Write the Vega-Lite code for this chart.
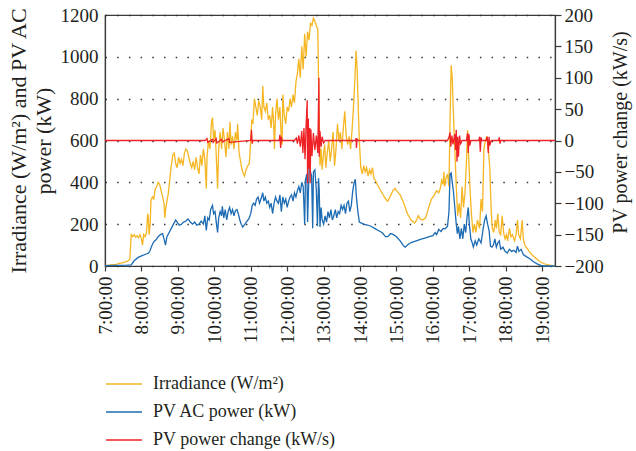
{
"$schema": "https://vega.github.io/schema/vega-lite/v6.json",
"width": 450, "height": 251,
"autosize": {"type": "none"},
"padding": {"left": 105, "top": 15, "right": 81, "bottom": 185},
"background": "white",
"datasets": {
"irr": [
{"t":7.00,"v":2},{"t":7.10,"v":4},{"t":7.20,"v":6},{"t":7.30,"v":8},{"t":7.40,"v":12},{"t":7.50,"v":16},{"t":7.60,"v":22},{"t":7.68,"v":30},{"t":7.70,"v":90},{"t":7.72,"v":150},{"t":7.76,"v":140},{"t":7.80,"v":150},{"t":7.84,"v":138},{"t":7.88,"v":145},{"t":7.92,"v":135},{"t":7.96,"v":150},{"t":8.00,"v":130},{"t":8.03,"v":100},{"t":8.06,"v":150},{"t":8.10,"v":140},{"t":8.14,"v":160},{"t":8.17,"v":250},{"t":8.19,"v":230},{"t":8.21,"v":150},{"t":8.24,"v":200},{"t":8.26,"v":310},{"t":8.30,"v":330},{"t":8.34,"v":320},{"t":8.38,"v":370},{"t":8.42,"v":380},{"t":8.46,"v":400},{"t":8.50,"v":390},{"t":8.54,"v":360},{"t":8.58,"v":330},{"t":8.62,"v":300},{"t":8.64,"v":230},{"t":8.67,"v":280},{"t":8.70,"v":310},{"t":8.74,"v":350},{"t":8.78,"v":420},{"t":8.82,"v":480},{"t":8.86,"v":530},{"t":8.90,"v":540},{"t":8.94,"v":490},{"t":8.98,"v":470},{"t":9.02,"v":520},{"t":9.06,"v":490},{"t":9.10,"v":510},{"t":9.14,"v":480},{"t":9.18,"v":540},{"t":9.22,"v":560},{"t":9.26,"v":550},{"t":9.30,"v":520},{"t":9.34,"v":490},{"t":9.38,"v":470},{"t":9.42,"v":500},{"t":9.46,"v":460},{"t":9.50,"v":520},{"t":9.54,"v":470},{"t":9.58,"v":440},{"t":9.62,"v":530},{"t":9.66,"v":480},{"t":9.70,"v":560},{"t":9.74,"v":510},{"t":9.78,"v":370},{"t":9.80,"v":520},{"t":9.84,"v":600},{"t":9.88,"v":560},{"t":9.92,"v":680},{"t":9.95,"v":710},{"t":9.98,"v":600},{"t":10.02,"v":650},{"t":10.05,"v":540},{"t":10.09,"v":370},{"t":10.12,"v":560},{"t":10.16,"v":640},{"t":10.20,"v":560},{"t":10.24,"v":660},{"t":10.28,"v":600},{"t":10.32,"v":520},{"t":10.36,"v":640},{"t":10.40,"v":560},{"t":10.43,"v":690},{"t":10.46,"v":580},{"t":10.50,"v":620},{"t":10.54,"v":560},{"t":10.58,"v":640},{"t":10.62,"v":600},{"t":10.64,"v":680},{"t":10.68,"v":540},{"t":10.72,"v":500},{"t":10.76,"v":460},{"t":10.80,"v":440},{"t":10.83,"v":430},{"t":10.87,"v":460},{"t":10.92,"v":480},{"t":10.96,"v":490},{"t":11.00,"v":600},{"t":11.03,"v":700},{"t":11.06,"v":680},{"t":11.10,"v":800},{"t":11.14,"v":760},{"t":11.18,"v":720},{"t":11.22,"v":790},{"t":11.26,"v":760},{"t":11.30,"v":700},{"t":11.33,"v":860},{"t":11.36,"v":760},{"t":11.40,"v":740},{"t":11.44,"v":780},{"t":11.48,"v":700},{"t":11.52,"v":720},{"t":11.56,"v":660},{"t":11.60,"v":760},{"t":11.63,"v":680},{"t":11.65,"v":560},{"t":11.68,"v":720},{"t":11.72,"v":800},{"t":11.76,"v":700},{"t":11.80,"v":760},{"t":11.84,"v":600},{"t":11.86,"v":580},{"t":11.88,"v":820},{"t":11.92,"v":720},{"t":11.96,"v":680},{"t":12.00,"v":760},{"t":12.04,"v":740},{"t":12.08,"v":800},{"t":12.12,"v":760},{"t":12.16,"v":820},{"t":12.20,"v":780},{"t":12.24,"v":880},{"t":12.28,"v":920},{"t":12.32,"v":990},{"t":12.36,"v":900},{"t":12.40,"v":1050},{"t":12.44,"v":940},{"t":12.48,"v":1110},{"t":12.52,"v":1000},{"t":12.56,"v":1120},{"t":12.60,"v":1080},{"t":12.64,"v":1160},{"t":12.68,"v":1150},{"t":12.72,"v":1185},{"t":12.76,"v":1170},{"t":12.80,"v":1150},{"t":12.84,"v":1130},{"t":12.86,"v":900},{"t":12.88,"v":700},{"t":12.90,"v":480},{"t":12.93,"v":560},{"t":12.96,"v":460},{"t":13.00,"v":540},{"t":13.03,"v":580},{"t":13.06,"v":470},{"t":13.10,"v":540},{"t":13.14,"v":600},{"t":13.18,"v":500},{"t":13.22,"v":560},{"t":13.26,"v":640},{"t":13.30,"v":480},{"t":13.34,"v":560},{"t":13.38,"v":680},{"t":13.42,"v":600},{"t":13.46,"v":640},{"t":13.50,"v":560},{"t":13.54,"v":660},{"t":13.58,"v":740},{"t":13.62,"v":620},{"t":13.66,"v":580},{"t":13.70,"v":620},{"t":13.74,"v":560},{"t":13.78,"v":650},{"t":13.82,"v":760},{"t":13.86,"v":900},{"t":13.89,"v":1030},{"t":13.92,"v":940},{"t":13.95,"v":760},{"t":13.98,"v":600},{"t":14.02,"v":470},{"t":14.06,"v":440},{"t":14.10,"v":480},{"t":14.14,"v":450},{"t":14.18,"v":470},{"t":14.22,"v":430},{"t":14.26,"v":460},{"t":14.30,"v":440},{"t":14.34,"v":470},{"t":14.38,"v":420},{"t":14.42,"v":410},{"t":14.50,"v":380},{"t":14.60,"v":350},{"t":14.70,"v":320},{"t":14.76,"v":310},{"t":14.82,"v":330},{"t":14.90,"v":360},{"t":14.96,"v":370},{"t":15.00,"v":360},{"t":15.10,"v":340},{"t":15.20,"v":300},{"t":15.30,"v":250},{"t":15.40,"v":220},{"t":15.50,"v":205},{"t":15.55,"v":220},{"t":15.60,"v":240},{"t":15.65,"v":225},{"t":15.72,"v":220},{"t":15.80,"v":230},{"t":15.90,"v":290},{"t":15.96,"v":320},{"t":16.04,"v":340},{"t":16.10,"v":360},{"t":16.16,"v":350},{"t":16.20,"v":370},{"t":16.24,"v":410},{"t":16.28,"v":390},{"t":16.30,"v":450},{"t":16.32,"v":380},{"t":16.36,"v":420},{"t":16.40,"v":440},{"t":16.44,"v":380},{"t":16.47,"v":700},{"t":16.50,"v":960},{"t":16.53,"v":900},{"t":16.56,"v":740},{"t":16.60,"v":560},{"t":16.64,"v":380},{"t":16.68,"v":240},{"t":16.72,"v":300},{"t":16.76,"v":230},{"t":16.80,"v":380},{"t":16.84,"v":280},{"t":16.88,"v":350},{"t":16.92,"v":500},{"t":16.95,"v":650},{"t":16.98,"v":520},{"t":17.02,"v":360},{"t":17.06,"v":240},{"t":17.10,"v":160},{"t":17.14,"v":200},{"t":17.18,"v":160},{"t":17.22,"v":220},{"t":17.28,"v":180},{"t":17.32,"v":320},{"t":17.36,"v":260},{"t":17.40,"v":560},{"t":17.44,"v":600},{"t":17.48,"v":620},{"t":17.52,"v":560},{"t":17.56,"v":470},{"t":17.60,"v":260},{"t":17.63,"v":180},{"t":17.67,"v":160},{"t":17.71,"v":220},{"t":17.74,"v":180},{"t":17.78,"v":250},{"t":17.82,"v":160},{"t":17.86,"v":150},{"t":17.90,"v":240},{"t":17.94,"v":160},{"t":17.98,"v":130},{"t":18.02,"v":150},{"t":18.05,"v":120},{"t":18.10,"v":180},{"t":18.14,"v":140},{"t":18.18,"v":150},{"t":18.24,"v":120},{"t":18.28,"v":150},{"t":18.32,"v":220},{"t":18.35,"v":150},{"t":18.40,"v":130},{"t":18.45,"v":220},{"t":18.48,"v":130},{"t":18.52,"v":100},{"t":18.58,"v":85},{"t":18.66,"v":65},{"t":18.74,"v":50},{"t":18.84,"v":35},{"t":18.94,"v":20},{"t":19.04,"v":12},{"t":19.14,"v":6},{"t":19.24,"v":3},{"t":19.35,"v":0}
],
"pv": [
{"t":7.00,"v":2},{"t":7.30,"v":3},{"t":7.60,"v":4},{"t":7.72,"v":5},{"t":7.80,"v":25},{"t":7.90,"v":40},{"t":8.00,"v":48},{"t":8.10,"v":55},{"t":8.20,"v":62},{"t":8.24,"v":75},{"t":8.28,"v":95},{"t":8.32,"v":110},{"t":8.36,"v":120},{"t":8.40,"v":125},{"t":8.46,"v":140},{"t":8.52,"v":150},{"t":8.58,"v":155},{"t":8.62,"v":130},{"t":8.66,"v":100},{"t":8.70,"v":140},{"t":8.76,"v":160},{"t":8.82,"v":180},{"t":8.88,"v":200},{"t":8.94,"v":220},{"t":8.98,"v":210},{"t":9.04,"v":195},{"t":9.10,"v":200},{"t":9.16,"v":210},{"t":9.22,"v":215},{"t":9.28,"v":225},{"t":9.34,"v":210},{"t":9.40,"v":200},{"t":9.46,"v":210},{"t":9.52,"v":195},{"t":9.58,"v":200},{"t":9.64,"v":215},{"t":9.70,"v":200},{"t":9.74,"v":240},{"t":9.78,"v":170},{"t":9.82,"v":230},{"t":9.86,"v":220},{"t":9.90,"v":270},{"t":9.95,"v":290},{"t":9.98,"v":250},{"t":10.02,"v":260},{"t":10.06,"v":200},{"t":10.09,"v":160},{"t":10.12,"v":230},{"t":10.16,"v":260},{"t":10.20,"v":240},{"t":10.22,"v":285},{"t":10.26,"v":230},{"t":10.30,"v":270},{"t":10.34,"v":220},{"t":10.38,"v":260},{"t":10.42,"v":280},{"t":10.46,"v":250},{"t":10.50,"v":270},{"t":10.54,"v":240},{"t":10.58,"v":265},{"t":10.62,"v":270},{"t":10.66,"v":250},{"t":10.70,"v":220},{"t":10.74,"v":200},{"t":10.78,"v":186},{"t":10.84,"v":200},{"t":10.90,"v":215},{"t":10.96,"v":230},{"t":11.00,"v":250},{"t":11.04,"v":290},{"t":11.08,"v":300},{"t":11.12,"v":290},{"t":11.16,"v":320},{"t":11.20,"v":330},{"t":11.24,"v":300},{"t":11.28,"v":320},{"t":11.33,"v":350},{"t":11.36,"v":310},{"t":11.40,"v":330},{"t":11.44,"v":300},{"t":11.48,"v":310},{"t":11.52,"v":280},{"t":11.56,"v":300},{"t":11.60,"v":250},{"t":11.64,"v":300},{"t":11.68,"v":330},{"t":11.72,"v":310},{"t":11.76,"v":300},{"t":11.80,"v":340},{"t":11.84,"v":260},{"t":11.88,"v":330},{"t":11.92,"v":300},{"t":11.96,"v":320},{"t":12.00,"v":280},{"t":12.04,"v":310},{"t":12.08,"v":330},{"t":12.12,"v":340},{"t":12.16,"v":310},{"t":12.20,"v":350},{"t":12.24,"v":330},{"t":12.28,"v":360},{"t":12.32,"v":380},{"t":12.36,"v":350},{"t":12.40,"v":400},{"t":12.44,"v":380},{"t":12.48,"v":200},{"t":12.50,"v":410},{"t":12.54,"v":440},{"t":12.56,"v":210},{"t":12.60,"v":460},{"t":12.64,"v":450},{"t":12.67,"v":430},{"t":12.70,"v":180},{"t":12.72,"v":450},{"t":12.76,"v":460},{"t":12.80,"v":360},{"t":12.83,"v":190},{"t":12.86,"v":420},{"t":12.88,"v":360},{"t":12.90,"v":186},{"t":12.93,"v":280},{"t":12.96,"v":220},{"t":13.00,"v":200},{"t":13.04,"v":240},{"t":13.08,"v":210},{"t":13.12,"v":260},{"t":13.16,"v":230},{"t":13.20,"v":270},{"t":13.24,"v":220},{"t":13.28,"v":240},{"t":13.32,"v":270},{"t":13.36,"v":230},{"t":13.40,"v":260},{"t":13.44,"v":250},{"t":13.48,"v":290},{"t":13.52,"v":270},{"t":13.56,"v":290},{"t":13.60,"v":250},{"t":13.64,"v":300},{"t":13.68,"v":310},{"t":13.72,"v":260},{"t":13.76,"v":290},{"t":13.80,"v":360},{"t":13.84,"v":400},{"t":13.87,"v":415},{"t":13.90,"v":330},{"t":13.94,"v":260},{"t":13.98,"v":210},{"t":14.04,"v":205},{"t":14.10,"v":200},{"t":14.20,"v":196},{"t":14.30,"v":190},{"t":14.40,"v":180},{"t":14.50,"v":170},{"t":14.60,"v":160},{"t":14.70,"v":140},{"t":14.76,"v":140},{"t":14.84,"v":155},{"t":14.92,"v":150},{"t":15.00,"v":140},{"t":15.10,"v":120},{"t":15.20,"v":95},{"t":15.24,"v":90},{"t":15.30,"v":100},{"t":15.40,"v":112},{"t":15.50,"v":118},{"t":15.60,"v":124},{"t":15.70,"v":130},{"t":15.80,"v":135},{"t":15.90,"v":140},{"t":16.00,"v":145},{"t":16.06,"v":160},{"t":16.10,"v":150},{"t":16.16,"v":175},{"t":16.22,"v":165},{"t":16.28,"v":180},{"t":16.34,"v":178},{"t":16.40,"v":190},{"t":16.44,"v":260},{"t":16.47,"v":440},{"t":16.50,"v":445},{"t":16.53,"v":400},{"t":16.56,"v":360},{"t":16.60,"v":280},{"t":16.64,"v":200},{"t":16.67,"v":155},{"t":16.70,"v":190},{"t":16.74,"v":130},{"t":16.78,"v":180},{"t":16.82,"v":130},{"t":16.86,"v":200},{"t":16.90,"v":160},{"t":16.94,"v":240},{"t":16.97,"v":280},{"t":17.00,"v":200},{"t":17.04,"v":130},{"t":17.08,"v":110},{"t":17.11,"v":90},{"t":17.16,"v":120},{"t":17.20,"v":100},{"t":17.26,"v":130},{"t":17.32,"v":110},{"t":17.38,"v":180},{"t":17.42,"v":220},{"t":17.46,"v":240},{"t":17.50,"v":200},{"t":17.54,"v":170},{"t":17.58,"v":95},{"t":17.62,"v":90},{"t":17.66,"v":100},{"t":17.70,"v":130},{"t":17.74,"v":90},{"t":17.78,"v":110},{"t":17.82,"v":120},{"t":17.86,"v":80},{"t":17.92,"v":90},{"t":17.98,"v":70},{"t":18.04,"v":62},{"t":18.10,"v":80},{"t":18.16,"v":70},{"t":18.22,"v":75},{"t":18.28,"v":65},{"t":18.32,"v":95},{"t":18.36,"v":70},{"t":18.42,"v":80},{"t":18.48,"v":55},{"t":18.56,"v":45},{"t":18.66,"v":35},{"t":18.76,"v":20},{"t":18.86,"v":10},{"t":18.96,"v":3},{"t":19.05,"v":0},{"t":19.35,"v":0}
],
"chg": [
{"t":7.00,"v":0},{"t":9.75,"v":0},{"t":9.80,"v":3},{"t":9.82,"v":-3},{"t":9.95,"v":2},{"t":9.97,"v":-3},{"t":10.05,"v":3},{"t":10.07,"v":-4},{"t":10.20,"v":2},{"t":10.22,"v":-2},{"t":10.40,"v":3},{"t":10.42,"v":-3},{"t":11.00,"v":0},{"t":11.02,"v":17},{"t":11.04,"v":-5},{"t":11.06,"v":0},{"t":11.78,"v":0},{"t":11.80,"v":9},{"t":11.82,"v":-12},{"t":11.84,"v":6},{"t":11.86,"v":0},{"t":12.20,"v":0},{"t":12.25,"v":4},{"t":12.28,"v":-5},{"t":12.32,"v":8},{"t":12.36,"v":-10},{"t":12.40,"v":15},{"t":12.43,"v":-20},{"t":12.46,"v":20},{"t":12.49,"v":-30},{"t":12.52,"v":25},{"t":12.55,"v":64},{"t":12.56,"v":-68},{"t":12.58,"v":35},{"t":12.60,"v":-45},{"t":12.62,"v":20},{"t":12.63,"v":-68},{"t":12.65,"v":18},{"t":12.68,"v":-25},{"t":12.72,"v":12},{"t":12.76,"v":-15},{"t":12.80,"v":8},{"t":12.84,"v":-20},{"t":12.87,"v":100},{"t":12.88,"v":-26},{"t":12.90,"v":15},{"t":12.93,"v":-10},{"t":12.96,"v":6},{"t":13.00,"v":-4},{"t":13.04,"v":0},{"t":13.88,"v":0},{"t":13.89,"v":4},{"t":13.90,"v":-12},{"t":13.92,"v":3},{"t":13.94,"v":0},{"t":16.40,"v":0},{"t":16.44,"v":5},{"t":16.47,"v":13},{"t":16.49,"v":-10},{"t":16.52,"v":8},{"t":16.55,"v":-6},{"t":16.60,"v":10},{"t":16.62,"v":-15},{"t":16.64,"v":17},{"t":16.66,"v":-34},{"t":16.68,"v":6},{"t":16.70,"v":-26},{"t":16.73,"v":8},{"t":16.76,"v":-5},{"t":16.80,"v":0},{"t":16.92,"v":0},{"t":16.95,"v":12},{"t":16.97,"v":-20},{"t":16.99,"v":10},{"t":17.01,"v":-8},{"t":17.04,"v":0},{"t":17.26,"v":0},{"t":17.28,"v":6},{"t":17.30,"v":-18},{"t":17.32,"v":5},{"t":17.34,"v":0},{"t":17.46,"v":0},{"t":17.49,"v":6},{"t":17.52,"v":-20},{"t":17.54,"v":6},{"t":17.56,"v":-8},{"t":17.60,"v":0},{"t":17.80,"v":0},{"t":17.82,"v":5},{"t":17.84,"v":-5},{"t":17.86,"v":0},{"t":19.35,"v":0}
]
},
"config": {
  "font": "Liberation Serif",
  "view": {"stroke": "#3a3a3a", "strokeWidth": 1.2},
  "axis": {
    "labelFont": "Liberation Serif", "labelFontSize": 19, "labelColor": "#231f20",
    "titleFont": "Liberation Serif", "titleFontSize": 21, "titleFontWeight": "normal", "titleColor": "#231f20",
    "domainColor": "#3a3a3a", "domainWidth": 1.2, "tickColor": "#3a3a3a", "tickWidth": 1.2
  },
  "legend": {"labelFont": "Liberation Serif", "labelFontSize": 18, "labelColor": "#231f20", "labelLimit": 0}
},
"encoding": {
  "x": {"field": "t", "type": "quantitative",
        "scale": {"domain": [7, 19.35], "nice": false, "zero": false},
        "axis": {"title": null, "values": [7,8,9,10,11,12,13,14,15,16,17,18,19],
                 "labelExpr": "datum.value + ':00:00'", "labelAngle": -90,
                 "tickSize": 5, "labelPadding": 5, "grid": false}}
},
"layer": [
  {
    "layer": [
      {"data": {"name": "irr"}, "mark": {"type": "line", "strokeWidth": 1.3},
       "encoding": {
         "y": {"field": "v", "type": "quantitative",
               "scale": {"domain": [0, 1200], "nice": false},
               "axis": {"title": ["Irradiance (W/m²) and PV AC", "power (kW)"], "format": "d",
                        "values": [0,200,400,600,800,1000,1200], "tickSize": 0, "labelPadding": 7,
                        "titleFontSize": 22, "titlePadding": 5, "titleLineHeight": 25,
                        "grid": true, "gridDash": [1.5, 10.2], "gridColor": "#333333", "gridWidth": 1.5}},
         "color": {"datum": "Irradiance (W/m²)", "type": "nominal",
                   "scale": {"domain": ["Irradiance (W/m²)", "PV AC power (kW)", "PV power change (kW/s)"],
                             "range": ["#F5B623", "#1C6BB3", "#EE2226"]},
                   "legend": {"title": null, "orient": "none", "legendX": 0, "legendY": 350,
                              "symbolType": "stroke", "symbolSize": 1296, "symbolStrokeWidth": 1.5,
                              "labelOffset": 10, "rowPadding": 0}}
       }},
      {"data": {"name": "pv"}, "mark": {"type": "line", "strokeWidth": 1.3},
       "encoding": {
         "y": {"field": "v", "type": "quantitative"},
         "color": {"datum": "PV AC power (kW)", "type": "nominal"}
       }}
    ]
  },
  {"data": {"name": "chg"}, "mark": {"type": "line", "strokeWidth": 1.3},
   "encoding": {
     "y": {"field": "v", "type": "quantitative",
           "scale": {"domain": [-200, 200], "nice": false, "zero": false},
           "axis": {"orient": "right", "title": "PV power change (kW/s)", "titleAngle": -90,
                    "titleFontSize": 20,
                    "titleX": 65, "titleY": 117, "titleAlign": "center", "titleBaseline": "middle",
                    "values": [-200,-150,-100,-50,0,50,100,150,200], "tickSize": 6, "labelPadding": 3,
                    "grid": false}},
     "color": {"datum": "PV power change (kW/s)", "type": "nominal"}
   }}
],
"resolve": {"scale": {"y": "independent"}}
}
